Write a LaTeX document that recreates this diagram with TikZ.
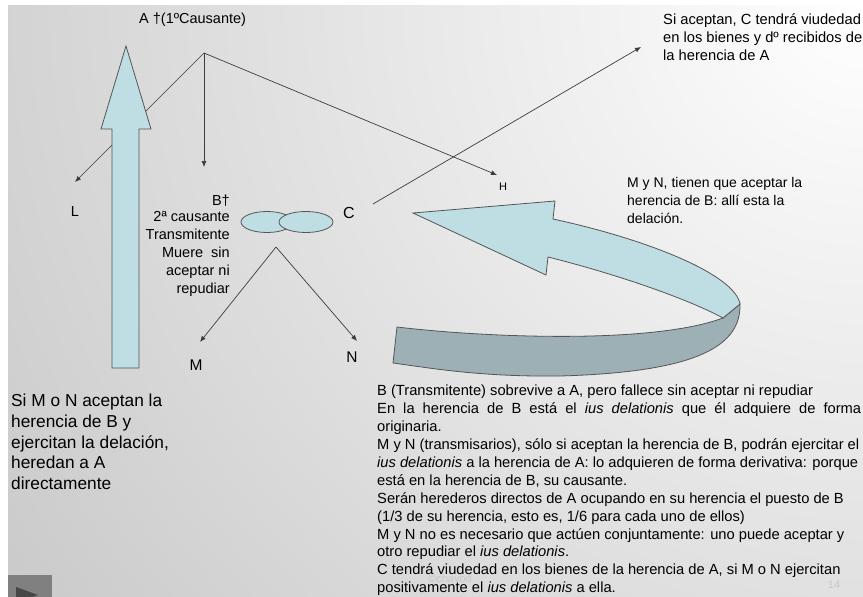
\documentclass[tikz,border=0pt]{standalone}
\usepackage{fontspec}
\setmainfont{Liberation Sans}
\usetikzlibrary{arrows.meta}

\definecolor{ribbonblue}{RGB}{191,222,228}
\definecolor{ribbondark}{RGB}{156,176,181}
\definecolor{edgegray}{RGB}{85,85,85}
\definecolor{linegray}{RGB}{60,60,60}

\tikzset{
  conn/.style={draw=linegray, line width=0.7pt, -{Latex[length=6pt,width=5pt]}},
  lbl/.style={inner sep=0pt, font=\fontsize{14.5}{18}\selectfont},
  bigfill/.style={fill=ribbonblue, draw=edgegray, line width=0.8pt},
}

\begin{document}
\begin{tikzpicture}[x=1pt,y=-1pt]
		%%%%% START %%%%%
		\useasboundingbox (0,0) rectangle (863,597);
		\clip (0,0) rectangle (863,597);
		\fill[white] (0,0) rectangle (863,597);
		\begin{scope}
			\clip (8,5) rectangle (863,597);
			\shade[inner color=white, outer color=black!37] (863,0) circle (1850pt);
		\end{scope}
		
		% A and its heirs
		\node[lbl, anchor=north west] (A) at (139,13) {A †(1ºCausante)};
		\coordinate (apexA) at (204,53);
		\coordinate (tipL) at (75,182);
		\coordinate (tipB) at (204,167);
		\coordinate (tipH) at (497,175);
		\node[lbl] (L) at (75,212) {L};
		\node[lbl, font=\fontsize{11}{13}\selectfont] (H) at (503,187) {H};
		\draw[conn] (apexA) -- (tipL);
		\draw[conn] (apexA) -- (tipB);
		\draw[conn] (apexA) -- (tipH);
		
		% B, C
		\node[lbl, anchor=north east] (B) at (230,195) {B†};
		\node[lbl, anchor=north east, align=right] (Bdesc) at (230,211)
			{2ª causante\\Transmitente\\Muere~ sin\\aceptar ni\\repudiar};
		\draw[bigfill] (267,222) ellipse (26pt and 10.5pt);
		\draw[bigfill] (306,222) ellipse (27pt and 10.5pt);
		\node[lbl, font=\fontsize{16}{18}\selectfont] (C) at (349,213) {C};
		\coordinate (Cfoot) at (373,204);
		\coordinate (tipS) at (641,47);
		\draw[conn] (Cfoot) -- (tipS);
		
		% M, N
		\coordinate (apexB) at (276,247);
		\coordinate (tipM) at (200,342);
		\coordinate (tipN) at (357,341);
		\node[lbl, font=\fontsize{15.5}{18}\selectfont] (M) at (196,365) {M};
		\node[lbl, font=\fontsize{15.5}{18}\selectfont] (N) at (352,357) {N};
		\draw[conn] (apexB) -- (tipM);
		\draw[conn] (apexB) -- (tipN);
		
		% big arrow up
		\draw[bigfill] (112,368) -- (112,129) -- (101,129) -- (126,46) -- (151,129)
			-- (139,129) -- (139,368) -- cycle;
		
		% curved ribbon
		\draw[fill=ribbondark, draw=edgegray, line width=0.8pt] (740,304)
			.. controls (741,345) and (700,372) .. (560,376)
			.. controls (480,377) and (430,368) .. (393,363)
			-- (397,327)
			.. controls (480,337) and (650,345) .. (723,318) -- cycle;
		\draw[bigfill] (413,213) -- (555,201) -- (553,219)
			.. controls (650,240) and (735,275) .. (740,304)
			-- (723,318)
			.. controls (690,300) and (620,275) .. (548,257)
			-- (546,275) -- cycle;
		
		% texts
		\node[lbl, anchor=north west, align=left, font=\fontsize{14.7}{18.3}\selectfont] (viudedad) at (663,13)
			{Si aceptan, C tendrá viudedad\\en los bienes y dº recibidos de\\la herencia de A};
		\node[lbl, anchor=north west, align=left, font=\fontsize{14}{18}\selectfont] (aceptar) at (627,177)
			{M y N, tienen que aceptar la\\herencia de B: allí esta la\\delación.};
		\node[lbl, anchor=north west, align=left, font=\fontsize{17.3}{20.7}\selectfont] (resumen) at (11,394)
			{Si M o N aceptan la\\herencia de B y\\ejercitan la delación,\\heredan a A\\directamente};
		\node[lbl, anchor=north west, align=left, font=\fontsize{14.7}{17.9}\selectfont] (notas) at (377,385)
			{B (Transmitente) sobrevive a A, pero fallece sin aceptar ni repudiar\\
			\makebox[484pt][s]{En la herencia de B está el \textit{ius delationis} que él adquiere de forma}\\
			originaria.\\
			M y N (transmisarios), sólo si aceptan la herencia de B, podrán ejercitar el\\
			\textit{ius delationis} a la herencia de A: lo adquieren de forma derivativa: porque\\
			está en la herencia de B, su causante.\\
			Serán herederos directos de A ocupando en su herencia el puesto de B\\
			(1/3 de su herencia, esto es, 1/6 para cada uno de ellos)\\
			M y N no es necesario que actúen conjuntamente: uno puede aceptar y\\
			otro repudiar el \textit{ius delationis}.\\
			C tendrá viudedad en los bienes de la herencia de A, si M o N ejercitan\\
			positivamente el \textit{ius delationis} a ella.};
		
		% footer
		\node[text=black!22, font=\fontsize{11}{13}\selectfont] (firma) at (450,579) {©chavod};
		\node[text=black!22, font=\fontsize{11}{13}\selectfont] (pagina) at (834,585) {14};
		\fill[black!50] (8,575) rectangle (52,597);
		\fill[black!72] (16,587) -- (38,595) -- (16,603) -- cycle;
		%%%%% END %%%%%
\end{tikzpicture}
\end{document}
